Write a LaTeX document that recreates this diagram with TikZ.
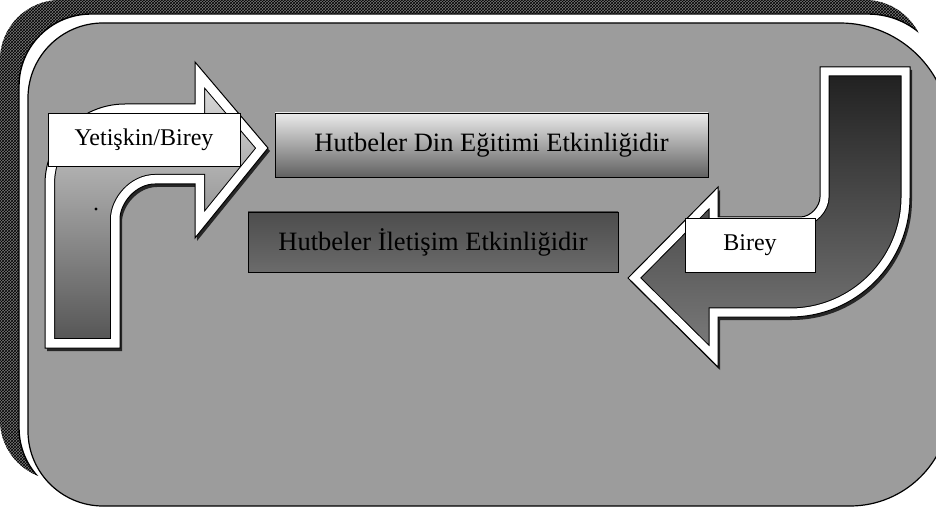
\documentclass[tikz,border=0pt]{standalone}
\usepackage{fontspec}
\setmainfont{Liberation Serif}
\usetikzlibrary{patterns}
\definecolor{bggray}{RGB}{156,156,156}
\definecolor{hatchbase}{RGB}{120,120,120}
\tikzset{
  lbox/.style={draw=black, line width=0.8pt, fill=white, inner sep=0pt, font=\fontsize{24}{28}\selectfont, text=black},
  barbox/.style={draw=black, line width=0.8pt, inner sep=0pt, font=\fontsize{26.5}{30}\selectfont, text=black},
  arrowedge/.style={draw=black, line width=1pt, line join=miter},
  arrowshadow/.style={fill=black!85, shift={(2,3)}},
}
\def\leftarrowpath{(45,348) -- (45,184) .. controls (45,139.8) and (80.8,104) .. (125,104) -- (195,104) -- (195,62) -- (268,148) -- (195,238) -- (195,184) -- (155,184) .. controls (135.7,184) and (120,203.3) .. (120,219) -- (120,348) -- cycle}
\def\rightarrowpath{(820,67) -- (910,67) -- (910,197) .. controls (910,263.2) and (856.2,317) .. (790,317) -- (718,317) -- (718,367) -- (628,278) -- (718,187) -- (718,217) -- (800,217) .. controls (811,217) and (820,206) .. (820,197) -- cycle}
\def\hatchpath{[rounded corners=60pt] (0,0) rectangle (925,480)}
\def\ringpath{(91,14) -- (868,14) .. controls (912.2,14) and (948,49.8) .. (948,94) -- (948,500) -- (91,500) .. controls (51.3,500) and (19,467.7) .. (19,428) -- (19,86) .. controls (19,46.3) and (51.3,14) .. (91,14) -- cycle}
\def\panelpath{(103,23) -- (840,23) .. controls (900.7,23) and (950,72.3) .. (950,133) -- (950,406) .. controls (950,461.2) and (905.2,506) .. (850,506) -- (103,506) .. controls (61.6,506) and (28,472.4) .. (28,431) -- (28,98) .. controls (28,56.6) and (61.6,23) .. (103,23) -- cycle}
\begin{document}
\begin{tikzpicture}[x=1pt,y=-1pt]
\useasboundingbox (0,0) rectangle (936,510);
\clip (0,0) rectangle (936,510);
\fill[white] (0,0) rectangle (936,510);
% outer hatched frame
\fill[hatchbase] \hatchpath;
\fill[pattern=crosshatch, pattern color=black] \hatchpath;
\fill[white] \ringpath;
\begin{scope}
  \clip \hatchpath;
  \draw[black, line width=1.4pt] \ringpath;
\end{scope}
% inner textured panel
\filldraw[fill=bggray, draw=black, line width=1.2pt] \panelpath;
% left bent arrow
\fill[arrowshadow] \leftarrowpath;
\begin{scope}
  \clip \leftarrowpath;
  \shade[top color=black!10, bottom color=black!68] \leftarrowpath;
  \draw[black, line width=20pt, line join=miter] \leftarrowpath;
  \draw[white, line width=18pt, line join=miter] \leftarrowpath;
\end{scope}
\draw[arrowedge] \leftarrowpath;
% right U-turn arrow
\fill[arrowshadow] \rightarrowpath;
\begin{scope}
  \clip \rightarrowpath;
  \shade[top color=black!88, bottom color=black!50] \rightarrowpath;
  \draw[black, line width=19pt, line join=miter] \rightarrowpath;
  \draw[white, line width=17pt, line join=miter] \rightarrowpath;
\end{scope}
\draw[arrowedge] \rightarrowpath;
% small dot
\fill[black] (96,209) circle (1.6pt);
% bars
\node[barbox, minimum width=433pt, minimum height=64pt, top color=black!8, bottom color=black!62] (bar1) at (491.5,145) {Hutbeler Din Eğitimi Etkinliğidir};
\node[barbox, minimum width=370pt, minimum height=60pt, top color=black!70, bottom color=black!58] (bar2) at (433,242) {Hutbeler İletişim Etkinliğidir};
% labels
\node[lbox, minimum width=192pt, minimum height=53pt] (yb) at (144,139.5) {Yetişkin/Birey};
\node[lbox, minimum width=130pt, minimum height=54pt] (birey) at (750,245) {Birey};
\end{tikzpicture}
\end{document}
